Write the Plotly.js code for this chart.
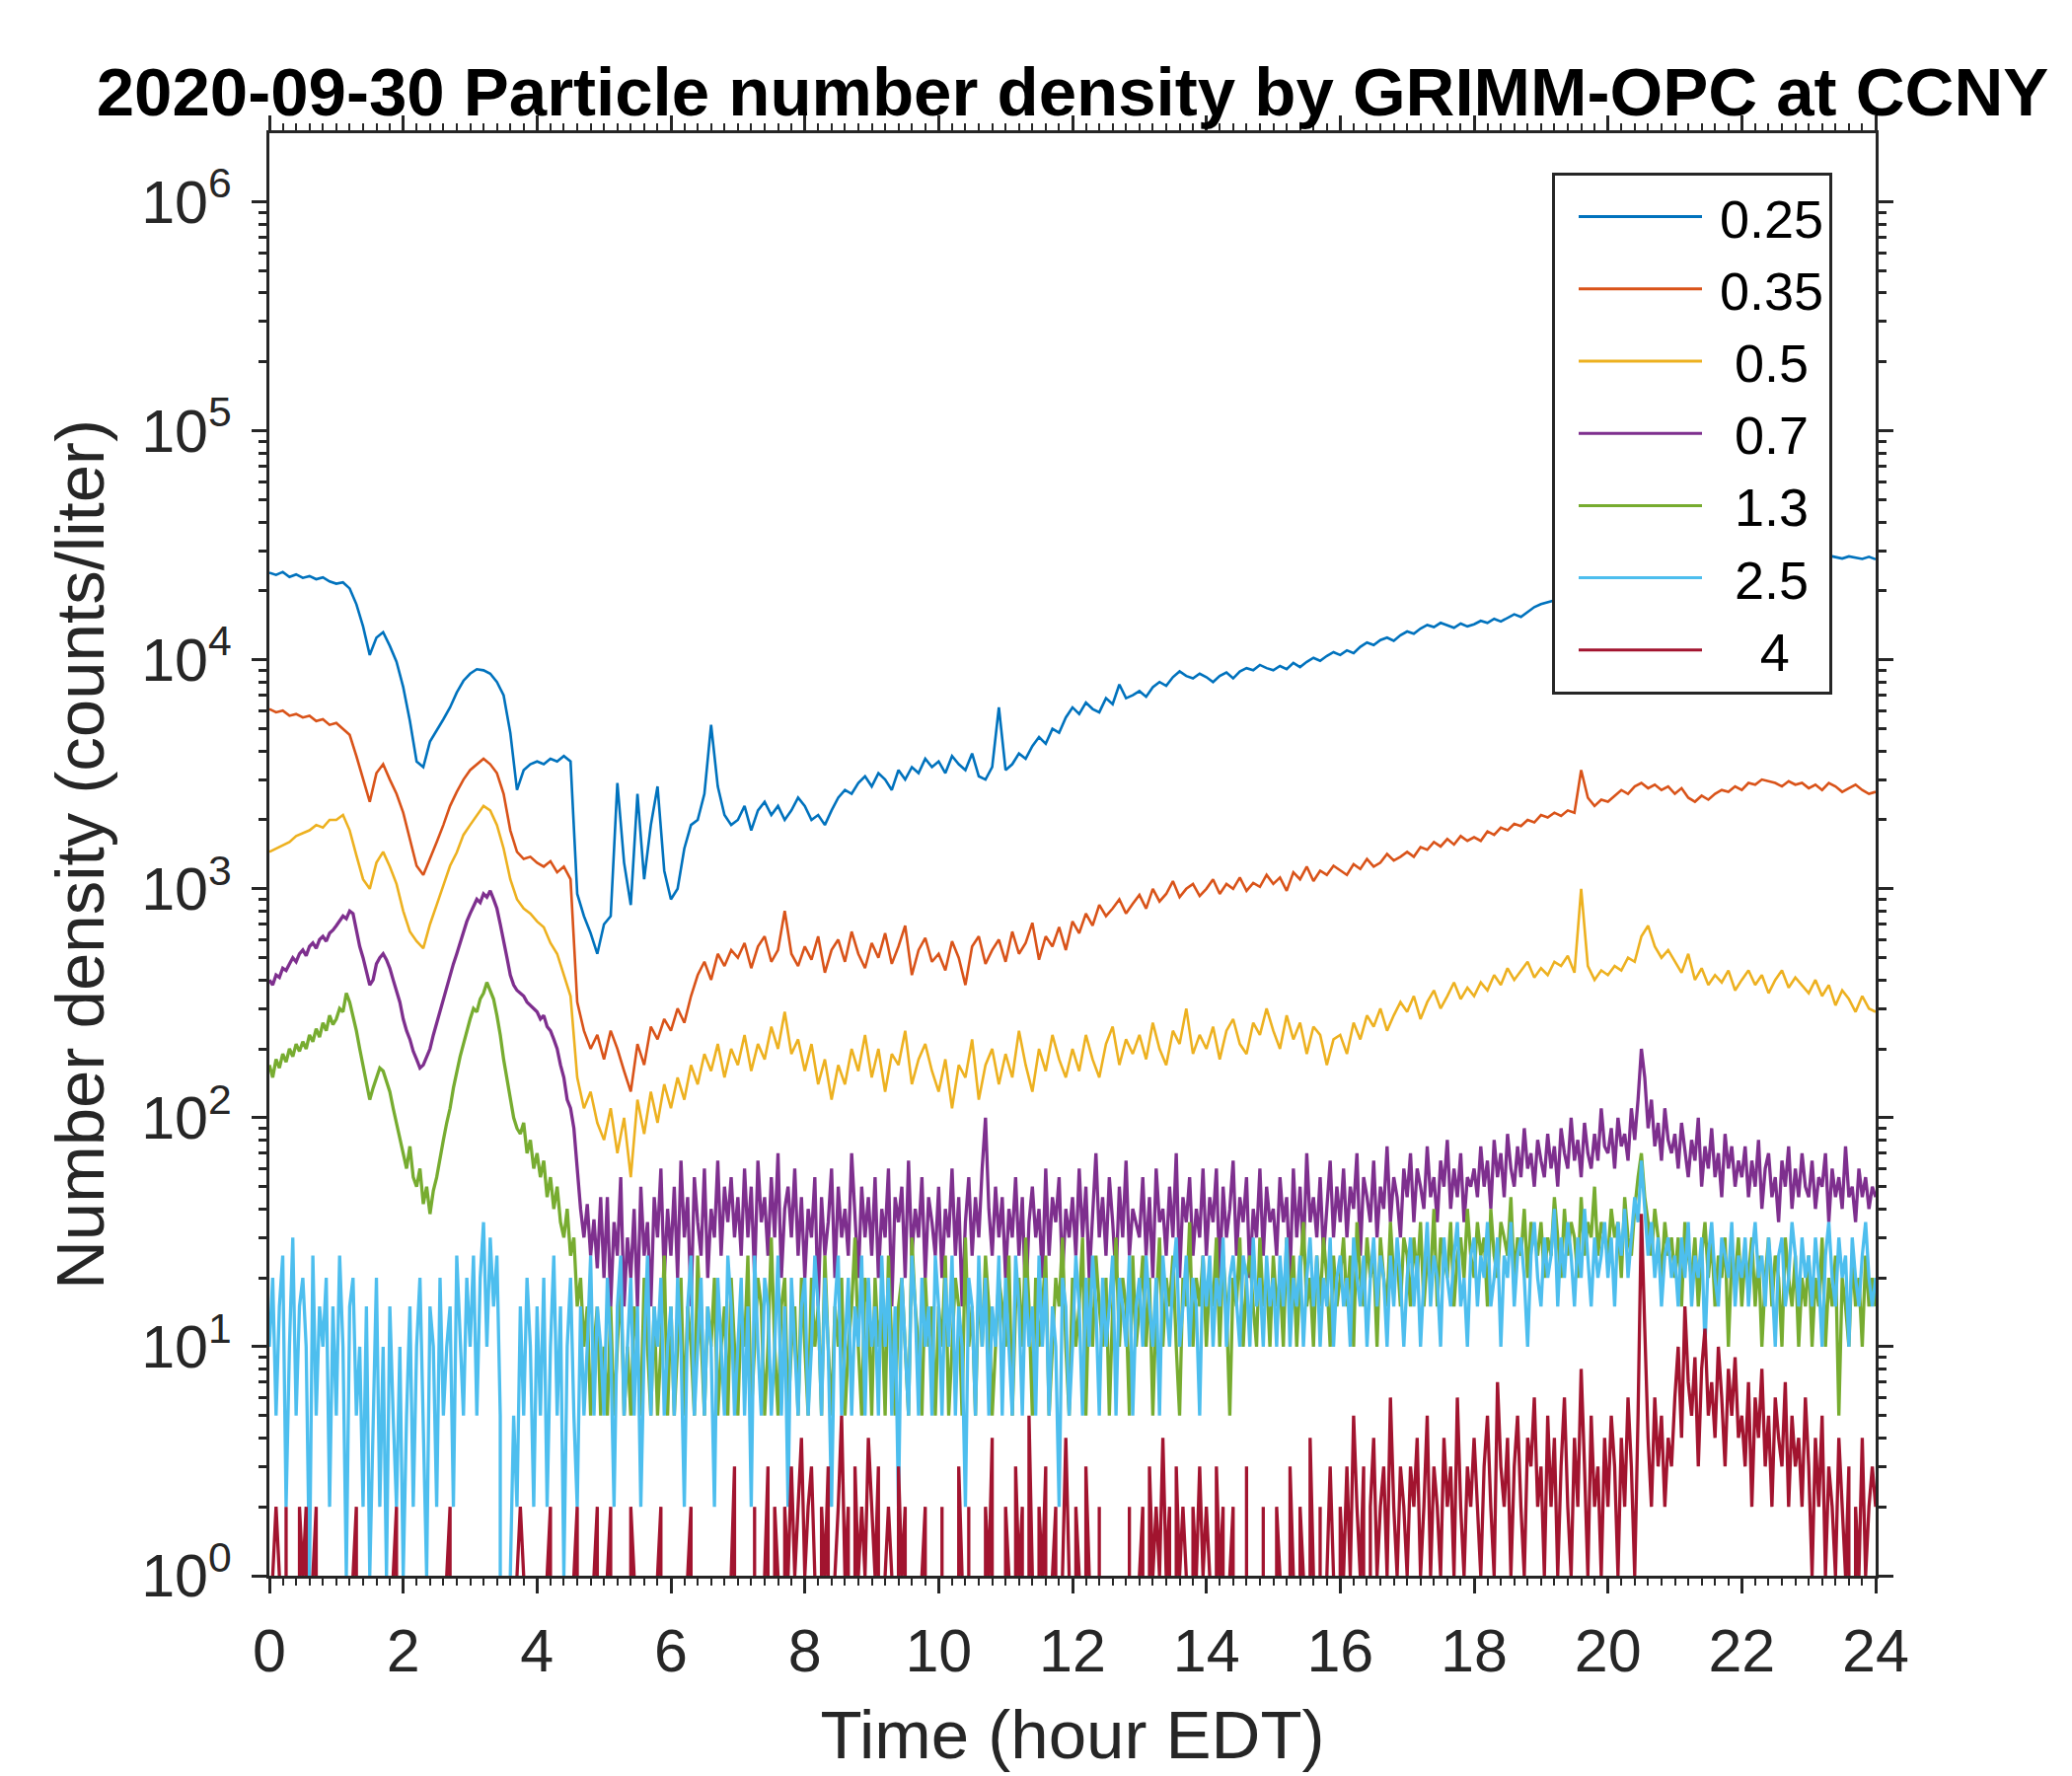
<!DOCTYPE html>
<html>
<head>
<meta charset="utf-8">
<script src="https://cdn.plot.ly/plotly-3.0.1.min.js"></script>
<style>
  html, body { margin: 0; padding: 0; background: #fff; }
  #opc-plot { width: 2100px; height: 1800px; }
</style>
</head>
<body>
<div id="opc-plot"></div>
<script>
// ── Data (counts/liter) ──────────────────────────────────────────────
// Smooth channels sampled every 0.1 h, noisy channels every 0.05 h.
// A zero means "no count" and is left out by the log axis, as in the source.

const STEP_COARSE = 0.1;
const STEP_FINE = 0.05;

const SIZE_LABELS = ['0.25', '0.35', '0.5', '0.7', '1.3', '2.5', '4'];
const SIZE_COLORS = ['#0072BD', '#D95319', '#EDB120', '#7E2F8E', '#77AC30', '#4DBEEE', '#A2142F'];

const N025 = [
    24000, 23500, 24200, 23000, 23600, 22800, 23200, 22500, 22900, 22000,
    21500, 21800, 20500, 17500, 14000, 10500, 12500, 13200, 11500, 9800,
    7600, 5400, 3600, 3400, 4400, 4900, 5500, 6200, 7200, 8100,
    8700, 9100, 9000, 8700, 8000, 7000, 4800, 2700, 3300, 3500,
    3600, 3500, 3700, 3600, 3800, 3600, 950, 760, 640, 520,
    700, 760, 2900, 1300, 850, 2600, 1100, 1900, 2800, 1200,
    900, 1000, 1500, 1900, 2000, 2600, 5200, 2800, 2100, 1900,
    2000, 2300, 1800, 2200, 2400, 2100, 2300, 2000, 2200, 2500,
    2300, 2000, 2100, 1900, 2200, 2500, 2700, 2600, 2900, 3100,
    2800, 3200, 3000, 2700, 3300, 3000, 3400, 3200, 3700, 3400,
    3600, 3200, 3800, 3500, 3300, 3900, 3100, 3000, 3400, 6200,
    3300, 3500, 3900, 3700, 4200, 4600, 4300, 5000, 4800, 5600,
    6200, 5800, 6500, 6100, 5900, 6800, 6400, 7800, 6800, 7000,
    7300, 6900, 7600, 8000, 7700, 8400, 8900, 8500, 8300, 8700,
    8400, 8000, 8500, 8800, 8300, 8900, 9200, 9000, 9500, 9200,
    9000, 9400, 9100, 9700, 9300, 9800, 10200, 9900, 10400, 10800,
    10500, 11000, 10700, 11400, 11900, 11600, 12200, 12500, 12100, 12800,
    13300, 13000, 13700, 14200, 13900, 14500, 14100, 13800, 14400, 14000,
    14300, 14800, 14500, 15100, 14700, 15300, 15800, 15400, 16200, 17000,
    17500, 17800, 18200, 18600, 19000, 19300, 19800, 20200, 20500, 21000,
    21200, 21500, 21800, 22000, 22300, 22600, 22800, 23100, 23300, 23600,
    23800, 24000, 24300, 24500, 24800, 25000, 25300, 25500, 25800, 26000,
    26200, 26500, 26700, 27000, 27200, 27400, 27600, 27800, 28000, 28200,
    27800, 28300, 27900, 28500, 28100, 27700, 28300, 28000, 27600, 28200,
    27500
];

const N035 = [
    6100, 5900, 6000, 5700, 5800, 5600, 5700, 5400, 5500, 5200,
    5300, 5000, 4700, 3800, 3000, 2400, 3200, 3500, 3000, 2600,
    2150, 1650, 1260, 1150, 1350, 1600, 1900, 2300, 2650, 3000,
    3300, 3500, 3700, 3500, 3200, 2600, 1800, 1450, 1350, 1380,
    1300, 1250, 1320, 1180, 1250, 1100, 320, 240, 200, 230,
    180, 240, 200, 160, 130, 210, 170, 250, 220, 270,
    240, 300, 260, 340, 420, 480, 400, 520, 460, 540,
    500, 580, 450, 560, 620, 480, 540, 800, 520, 460,
    560, 490, 620, 430, 540, 600, 480, 650, 520, 450,
    580, 500, 640, 470, 560, 690, 420, 540, 610, 480,
    520, 440, 590, 500, 380, 560, 620, 470, 540, 600,
    480, 650, 520, 580, 710, 490, 620, 560, 680, 540,
    720, 640, 780, 690, 850, 760, 820, 900, 780, 860,
    940, 820, 1000, 880, 950, 1080, 920, 1000, 1050, 930,
    1000, 1100, 950, 1050, 1000, 1120, 980, 1060, 1020, 1150,
    1050, 1120, 980, 1180, 1100, 1250, 1080, 1200, 1150, 1260,
    1200, 1150, 1280, 1220, 1350, 1250, 1300, 1420, 1330, 1380,
    1450, 1380, 1520, 1480, 1600, 1530, 1650, 1560, 1700, 1620,
    1680, 1620, 1780, 1720, 1850, 1800, 1920, 1880, 2000, 1950,
    2100, 2050, 2150, 2080, 2200, 2150, 3300, 2500, 2300, 2450,
    2400, 2550, 2700, 2600, 2800, 2900, 2750, 2850, 2700, 2800,
    2600, 2750, 2500, 2400, 2550, 2450, 2600, 2700, 2650, 2800,
    2700, 2900, 2850, 3000, 2950, 2900, 2800, 2950, 2850, 2900,
    2750, 2850, 2700, 2900, 2800, 2650, 2750, 2850, 2700, 2600,
    2650
];

const N050 = [
    1450, 1500, 1550, 1600, 1700, 1750, 1800, 1900, 1850, 2000,
    2000, 2100, 1800, 1400, 1100, 1000, 1300, 1450, 1250, 1050,
    800, 650, 590, 550, 700, 850, 1030, 1260, 1440, 1720,
    1900, 2100, 2300, 2200, 1900, 1500, 1100, 900, 820, 780,
    720, 680, 580, 520, 420, 340, 150, 110, 130, 95,
    80, 110, 70, 100, 55, 120, 85, 130, 95, 140,
    110, 150, 120, 170, 140, 190, 160, 210, 150, 200,
    170, 230, 160, 210, 180, 250, 200, 290, 190, 220,
    160, 210, 140, 180, 120, 170, 140, 200, 160, 230,
    150, 200, 130, 190, 170, 240, 140, 180, 210, 160,
    130, 180, 110, 170, 150, 220, 120, 170, 200, 140,
    190, 150, 240, 170, 130, 200, 160, 230, 180, 150,
    200, 160, 230, 180, 150, 210, 250, 170, 220, 190,
    230, 180, 260, 200, 170, 240, 210, 300, 190, 230,
    200, 250, 180, 240, 270, 210, 190, 260, 230, 300,
    240, 200, 280, 220, 260, 190, 250, 230, 170, 220,
    230, 190, 260, 220, 280, 250, 300, 240, 280, 320,
    290, 340, 270, 320, 360, 300, 340, 390, 330, 370,
    340, 390, 360, 420, 380, 450, 400, 440, 480, 410,
    450, 420, 480, 460, 510, 430, 1000, 460, 400, 440,
    420, 460, 440, 500, 480, 620, 690, 560, 500, 540,
    480, 430, 520, 400, 450, 380, 420, 390, 440, 360,
    400, 440, 380, 420, 350, 400, 440, 370, 410, 380,
    350, 400, 340, 380, 310, 360, 330, 290, 340, 300,
    290
];

const N070 = [
    400, 380, 420, 410, 450, 440, 470, 500, 480, 520, 540, 510, 560, 580, 550, 600, 620, 590, 640, 660,
    690, 720, 760, 740, 800, 780, 650, 560, 500, 430, 380, 400, 470, 500, 520, 490, 450, 400, 360, 320,
    270, 240, 220, 195, 180, 165, 170, 185, 200, 230, 260, 290, 330, 370, 420, 470, 520, 580, 650, 720,
    780, 840, 900, 870, 950, 920, 980, 900, 820, 700, 600, 500, 420, 380, 360, 350, 340, 320, 310, 300,
    290, 270, 280, 250, 240, 220, 200, 170, 150, 120, 110, 90, 60, 40, 30, 42, 25, 36, 22, 45,
    20, 45, 15, 35, 25, 55, 15, 30, 20, 40, 15, 50, 25, 35, 15, 45, 30, 60, 20, 40,
    25, 50, 20, 65, 30, 45, 15, 55, 35, 25, 60, 20, 40, 30, 65, 25, 50, 35, 55, 30,
    45, 25, 60, 30, 50, 20, 65, 35, 45, 25, 55, 30, 70, 20, 40, 50, 30, 60, 25, 45,
    20, 40, 30, 55, 15, 45, 25, 35, 60, 20, 50, 30, 40, 25, 70, 35, 20, 50, 30, 45,
    25, 55, 20, 40, 30, 60, 15, 45, 35, 50, 20, 65, 25, 40, 30, 55, 20, 45, 35, 25,
    50, 20, 40, 30, 60, 25, 45, 15, 35, 55, 25, 45, 30, 60, 100, 40, 25, 50, 30, 45,
    20, 40, 30, 55, 25, 45, 15, 35, 50, 30, 40, 20, 60, 25, 45, 35, 55, 20, 40, 30,
    45, 25, 60, 30, 50, 20, 40, 70, 30, 45, 25, 55, 35, 20, 50, 30, 65, 25, 40, 35,
    30, 55, 25, 45, 20, 60, 35, 40, 25, 50, 30, 70, 20, 45, 35, 55, 25, 40, 30, 60,
    25, 45, 35, 60, 20, 50, 30, 40, 65, 25, 45, 35, 55, 20, 40, 30, 60, 25, 50, 35,
    40, 25, 55, 35, 45, 20, 60, 30, 50, 25, 70, 35, 45, 30, 55, 25, 40, 65, 30, 50,
    35, 60, 30, 50, 40, 70, 25, 55, 45, 35, 65, 30, 50, 40, 75, 35, 55, 45, 30, 60,
    45, 70, 35, 60, 50, 40, 75, 45, 55, 35, 65, 50, 80, 40, 60, 45, 70, 35, 55, 50,
    60, 45, 75, 50, 65, 40, 80, 55, 70, 45, 85, 60, 50, 75, 55, 90, 60, 70, 50, 80,
    65, 55, 85, 60, 75, 50, 90, 70, 60, 100, 65, 80, 55, 95, 70, 60, 85, 65, 110, 75,
    70, 90, 60, 100, 75, 85, 65, 110, 80, 120, 200, 150, 90, 120, 75, 95, 65, 110, 80, 70,
    85, 60, 95, 70, 55, 80, 65, 100, 50, 75, 60, 90, 55, 70, 45, 85, 60, 75, 50, 65,
    55, 75, 45, 65, 50, 80, 40, 60, 70, 45, 55, 35, 65, 50, 75, 40, 60, 45, 70, 50,
    45, 65, 40, 55, 50, 70, 35, 60, 45, 55, 40, 75, 45, 50, 35, 60, 45, 55, 40, 50,
    45
];

const N130 = [
    170, 150, 180, 165, 190, 175, 200, 185, 210, 195, 215, 200, 230, 215, 245, 225, 260, 240, 280, 255,
    270, 300, 290, 350, 320, 280, 240, 200, 170, 140, 120, 135, 150, 165, 160, 145, 130, 110, 95, 80,
    70, 60, 75, 55, 50, 60, 42, 50, 38, 48, 55, 65, 80, 95, 110, 135, 160, 185, 210, 240,
    270, 300, 290, 330, 350, 390, 360, 330, 280, 230, 180, 150, 120, 100, 90, 85, 95, 70, 80, 60,
    70, 55, 65, 45, 55, 40, 50, 35, 30, 40, 25, 30, 15, 20, 10, 15, 5, 10, 15, 5,
    10, 5, 15, 5, 10, 20, 5, 10, 5, 15, 10, 5, 20, 10, 5, 15, 5, 10, 25, 5,
    15, 5, 10, 20, 5, 15, 10, 5, 25, 10, 5, 15, 10, 20, 5, 10, 15, 5, 20, 10,
    5, 15, 10, 25, 5, 10, 20, 15, 5, 10, 30, 10, 5, 15, 20, 5, 10, 15, 5, 20,
    10, 5, 20, 10, 15, 5, 25, 10, 5, 15, 10, 20, 5, 10, 15, 30, 10, 5, 20, 15,
    5, 20, 10, 15, 5, 25, 10, 5, 15, 20, 10, 5, 30, 15, 10, 5, 20, 10, 15, 5,
    15, 10, 25, 5, 10, 20, 15, 5, 30, 10, 15, 5, 20, 10, 25, 15, 5, 10, 20, 15,
    10, 25, 5, 15, 20, 10, 30, 15, 5, 20, 10, 15, 25, 5, 10, 20, 15, 30, 10, 5,
    20, 10, 15, 30, 5, 20, 10, 25, 15, 10, 20, 5, 15, 30, 10, 20, 15, 5, 25, 10,
    15, 25, 10, 20, 5, 15, 30, 10, 20, 15, 25, 10, 5, 20, 15, 35, 10, 20, 15, 25,
    10, 20, 15, 30, 10, 25, 15, 5, 20, 15, 30, 10, 20, 25, 15, 10, 30, 15, 20, 10,
    25, 15, 20, 10, 30, 15, 25, 10, 20, 35, 15, 20, 10, 25, 15, 30, 20, 10, 25, 15,
    20, 30, 15, 25, 10, 35, 20, 15, 30, 20, 25, 10, 30, 20, 15, 35, 20, 25, 15, 30,
    25, 15, 30, 20, 35, 15, 25, 20, 40, 15, 30, 25, 20, 35, 15, 25, 30, 20, 40, 25,
    20, 35, 25, 30, 15, 40, 25, 20, 35, 30, 25, 45, 20, 30, 25, 40, 20, 35, 30, 25,
    35, 20, 30, 25, 45, 30, 20, 40, 25, 35, 30, 20, 45, 25, 35, 30, 50, 25, 35, 30,
    25, 40, 30, 35, 20, 45, 30, 25, 40, 55, 70, 45, 35, 25, 40, 30, 20, 35, 25, 30,
    20, 30, 15, 35, 25, 20, 30, 15, 25, 35, 20, 30, 15, 25, 20, 30, 10, 25, 20, 30,
    15, 25, 20, 30, 15, 25, 10, 20, 30, 15, 25, 20, 10, 30, 20, 15, 25, 10, 20, 15,
    25, 10, 20, 15, 30, 10, 20, 15, 25, 5, 20, 15, 10, 25, 15, 20, 10, 25, 15, 20,
    15
];

const N250 = [
    10, 20, 5, 15, 25, 2, 10, 30, 5, 15, 20, 10, 1, 25, 5, 15, 10, 20, 2, 15,
    5, 25, 10, 1, 15, 20, 5, 10, 2, 15, 1, 5, 20, 2, 10, 1, 15, 5, 2, 10,
    1, 5, 15, 2, 10, 20, 5, 1, 15, 10, 2, 20, 5, 10, 15, 2, 25, 10, 5, 20,
    10, 25, 5, 20, 35, 10, 30, 15, 25, 5, 0, 0, 1, 5, 2, 15, 5, 20, 10, 2,
    15, 5, 20, 2, 10, 25, 5, 15, 1, 10, 20, 5, 2, 15, 5, 10, 25, 5, 15, 10,
    5, 20, 10, 2, 15, 25, 5, 10, 20, 5, 15, 2, 10, 25, 5, 15, 10, 20, 5, 10,
    15, 5, 20, 10, 2, 15, 25, 5, 10, 20, 5, 15, 10, 2, 20, 10, 5, 25, 15, 5,
    10, 20, 5, 15, 2, 25, 10, 5, 20, 15, 5, 10, 25, 5, 15, 2, 20, 10, 5, 15,
    20, 5, 10, 25, 15, 5, 20, 10, 2, 15, 25, 5, 10, 20, 5, 15, 10, 25, 5, 20,
    10, 15, 5, 25, 10, 20, 5, 15, 2, 20, 10, 5, 25, 15, 5, 20, 10, 15, 5, 25,
    15, 5, 20, 10, 25, 5, 15, 10, 2, 20, 15, 5, 25, 10, 20, 5, 15, 10, 25, 5,
    20, 10, 5, 25, 15, 5, 20, 10, 15, 5, 25, 10, 20, 5, 15, 10, 2, 20, 15, 5,
    10, 25, 15, 5, 20, 10, 25, 15, 5, 20, 10, 15, 25, 5, 20, 15, 10, 25, 5, 15,
    20, 10, 25, 15, 10, 20, 5, 25, 15, 10, 20, 30, 10, 15, 25, 10, 20, 15, 5, 25,
    15, 25, 10, 20, 15, 30, 10, 20, 25, 15, 10, 25, 20, 10, 30, 15, 20, 10, 25, 15,
    20, 10, 25, 15, 30, 10, 20, 15, 25, 10, 20, 30, 15, 25, 10, 20, 15, 30, 10, 20,
    25, 15, 20, 10, 30, 20, 15, 25, 10, 20, 30, 15, 25, 20, 10, 25, 15, 30, 20, 10,
    20, 30, 15, 25, 10, 20, 35, 15, 25, 20, 10, 30, 20, 15, 25, 35, 15, 20, 10, 25,
    30, 15, 25, 20, 35, 15, 20, 30, 10, 25, 20, 35, 15, 25, 30, 20, 10, 25, 35, 20,
    15, 30, 20, 25, 40, 15, 30, 20, 35, 25, 15, 30, 20, 40, 25, 15, 30, 20, 25, 35,
    20, 30, 15, 35, 25, 40, 20, 30, 45, 35, 65, 40, 25, 35, 20, 30, 15, 25, 30, 20,
    25, 15, 30, 20, 35, 15, 25, 20, 30, 10, 25, 35, 20, 15, 30, 25, 20, 35, 15, 25,
    20, 30, 15, 25, 35, 20, 25, 15, 30, 20, 10, 25, 30, 15, 20, 35, 25, 15, 30, 20,
    25, 15, 30, 20, 10, 25, 35, 20, 15, 30, 20, 25, 10, 30, 20, 15, 25, 35, 20, 15,
    20
];

const N400 = [
    0, 1, 2, 1, 0, 2, 0, 1, 0, 2, 1, 2, 0, 1, 2, 0, 0, 0, 0, 0,
    0, 0, 0, 0, 0, 1, 2, 0, 0, 0, 0, 0, 0, 0, 0, 0, 0, 1, 2, 0,
    0, 0, 0, 0, 0, 0, 0, 0, 0, 0, 0, 0, 0, 1, 2, 0, 0, 0, 0, 0,
    0, 0, 0, 0, 0, 0, 0, 0, 0, 0, 0, 0, 0, 0, 1, 2, 1, 0, 0, 0,
    0, 0, 0, 1, 2, 0, 0, 0, 0, 0, 0, 1, 2, 0, 0, 0, 0, 1, 2, 0,
    0, 1, 2, 0, 0, 1, 0, 0, 2, 1, 0, 0, 0, 0, 0, 0, 1, 2, 0, 0,
    0, 0, 0, 0, 0, 1, 2, 0, 0, 0, 1, 0, 0, 0, 0, 0, 0, 0, 1, 3,
    0, 0, 1, 0, 0, 2, 0, 0, 1, 3, 0, 2, 1, 0, 2, 1, 3, 1, 2, 4,
    1, 2, 3, 1, 0, 2, 1, 3, 0, 1, 2, 5, 1, 2, 0, 3, 1, 2, 1, 4,
    2, 1, 3, 0, 1, 2, 1, 0, 3, 1, 2, 0, 1, 0, 0, 1, 2, 0, 0, 1,
    0, 2, 0, 1, 0, 0, 3, 1, 0, 2, 0, 1, 0, 0, 2, 1, 4, 0, 1, 0,
    2, 1, 0, 3, 1, 2, 0, 5, 1, 0, 2, 1, 3, 0, 1, 2, 0, 1, 4, 1,
    0, 2, 1, 0, 3, 1, 0, 0, 2, 0, 1, 0, 0, 0, 1, 0, 0, 2, 0, 0,
    1, 2, 0, 3, 1, 2, 1, 4, 1, 2, 0, 3, 1, 2, 1, 0, 2, 1, 3, 1,
    2, 1, 0, 3, 1, 2, 0, 1, 2, 0, 1, 0, 3, 0, 1, 0, 0, 2, 0, 1,
    0, 2, 1, 0, 0, 3, 1, 0, 2, 1, 0, 4, 1, 0, 2, 0, 1, 3, 1, 0,
    2, 1, 3, 1, 5, 2, 1, 3, 0, 2, 4, 1, 2, 3, 1, 6, 2, 1, 3, 2,
    1, 3, 2, 4, 1, 2, 5, 1, 3, 2, 1, 4, 2, 3, 1, 6, 2, 1, 3, 2,
    4, 2, 1, 3, 5, 2, 1, 7, 3, 2, 4, 1, 3, 5, 2, 1, 4, 3, 6, 2,
    3, 1, 5, 2, 4, 1, 3, 6, 2, 1, 4, 2, 8, 3, 1, 5, 2, 3, 1, 4,
    2, 5, 3, 1, 4, 2, 6, 3, 1, 5, 38, 12, 4, 2, 6, 3, 5, 2, 4, 3,
    6, 10, 4, 15, 7, 5, 9, 3, 8, 12, 5, 7, 4, 10, 6, 3, 8, 5, 9, 4,
    5, 3, 7, 2, 6, 4, 8, 3, 5, 2, 6, 4, 3, 7, 2, 5, 3, 4, 2, 6,
    3, 1, 4, 2, 5, 1, 3, 2, 1, 4, 2, 1, 3, 0, 2, 1, 4, 1, 2, 3,
    2
];

const SERIES = [
    { values: N025, step: STEP_COARSE },
    { values: N035, step: STEP_COARSE },
    { values: N050, step: STEP_COARSE },
    { values: N070, step: STEP_FINE },
    { values: N130, step: STEP_FINE },
    { values: N250, step: STEP_FINE },
    { values: N400, step: STEP_FINE }
];

const Y_TICK_VALS = [1, 10, 100, 1000, 10000, 100000, 1000000];
const Y_TICK_TEXT = ['10<sup>0</sup>', '10<sup>1</sup>', '10<sup>2</sup>', '10<sup>3</sup>',
                     '10<sup>4</sup>', '10<sup>5</sup>', '10<sup>6</sup>'];

// ── Plot construction ────────────────────────────────────────────────

const FONT = 'Liberation Sans, Arial, Helvetica, sans-serif';
const INK = '#262626';
const LEGEND_LINE_LEN = 125;
const LEGEND_LINE_START = 24;

// Legend labels are centred in the source; pad the short ones.
function legendName(label) {
    const pad = { 3: '\u00a0', 1: '\u00a0\u00a0\u2009' };
    return (pad[label.length] || '') + label;
}

function buildTraces() {
    return SERIES.map((s, k) => ({
        x: s.values.map((_, i) => +(i * s.step).toFixed(2)),
        y: s.values,
        type: 'scatter',
        mode: 'lines',
        name: legendName(SIZE_LABELS[k]),
        line: { color: SIZE_COLORS[k], width: s.step === STEP_FINE ? 3.3 : 2.6 },
        connectgaps: false,
        hoverinfo: 'x+y'
    }));
}

function logMinorTicks() {
    const vals = [];
    for (let e = 0; e <= 6; e++) {
        for (let m = 2; m <= 9; m++) vals.push(m * Math.pow(10, e));
    }
    return vals;
}

function buildLayout() {
    const axisCommon = {
        showline: true,
        linecolor: INK,
        linewidth: 3,
        mirror: 'allticks',
        ticks: 'outside',
        tickcolor: INK,
        tickwidth: 3,
        ticklen: 15,
        showgrid: false,
        zeroline: false,
        tickfont: { family: FONT, size: 61, color: INK }
    };

    return {
        width: 2100,
        height: 1800,
        margin: { l: 273, r: 199, t: 135, b: 203 },
        paper_bgcolor: '#ffffff',
        plot_bgcolor: '#ffffff',
        font: { family: FONT, color: INK },
        title: {
            text: '2020-09-30 Particle number density by GRIMM-OPC at CCNY',
            font: { family: FONT, size: 69, color: '#000000', weight: 'bold' },
            x: 0.5,
            xref: 'paper',
            xanchor: 'center',
            y: 1 - 93 / 1800,
            yref: 'container',
            yanchor: 'middle'
        },
        xaxis: Object.assign({}, axisCommon, {
            range: [0, 24],
            tickmode: 'linear',
            tick0: 0,
            dtick: 2,
            ticklabelstandoff: 6,
            minor: { tick0: 0, dtick: 0.2, ticks: 'outside', ticklen: 7, tickwidth: 2, tickcolor: INK },
            title: { text: 'Time (hour EDT)', font: { family: FONT, size: 69, color: INK }, standoff: 28 }
        }),
        yaxis: Object.assign({}, axisCommon, {
            type: 'log',
            range: [0, 6.3],
            tickmode: 'array',
            tickvals: Y_TICK_VALS,
            ticktext: Y_TICK_TEXT,
            ticklabelstandoff: 8,
            minor: { tickmode: 'array', tickvals: logMinorTicks(), ticks: 'outside', ticklen: 8, tickwidth: 3, tickcolor: INK },
            title: { text: 'Number density (counts/liter)', font: { family: FONT, size: 69, color: INK }, standoff: 16 }
        }),
        showlegend: true,
        legend: {
            x: (1857 - 273) / 1628,
            xanchor: 'right',
            y: (1597 - 175) / 1462,
            yanchor: 'top',
            bgcolor: '#ffffff',
            bordercolor: INK,
            borderwidth: 3,
            itemwidth: LEGEND_LINE_LEN + 32,
            font: { family: FONT, size: 54, color: '#000000' },
            tracegroupgap: 0
        }
    };
}

// Plotly draws a fixed 30px sample line; the source legend uses long ones.
function stretchLegendLines() {
    document.querySelectorAll('#opc-plot .legend .legendlines path').forEach(p => {
        p.setAttribute('d', 'M' + LEGEND_LINE_START + ',0h' + LEGEND_LINE_LEN);
        p.style.strokeWidth = '3px';
    });
}

Plotly.newPlot('opc-plot', buildTraces(), buildLayout(), { staticPlot: true })
    .then(stretchLegendLines);
</script>
</body>
</html>
